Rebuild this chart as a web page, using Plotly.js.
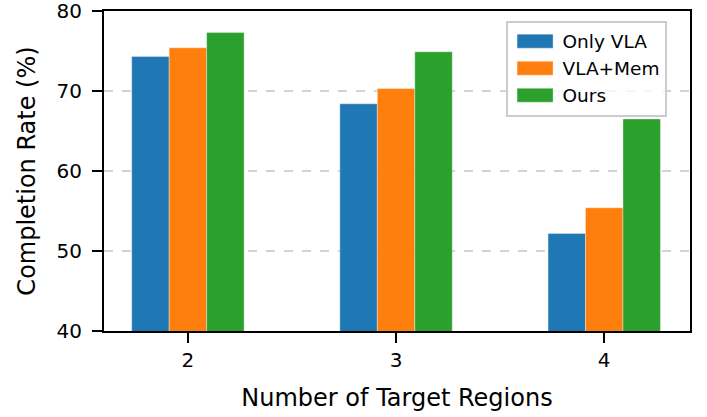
<!DOCTYPE html>
<html>
<head>
<meta charset="utf-8">
<script src="https://cdn.plot.ly/plotly-3.0.1.min.js"></script>
<style>html,body{margin:0;padding:0;background:#fff;}#chart{width:707px;height:417px;}</style>
</head>
<body>
<div id="chart"></div>
<script>
const categories = ['2', '3', '4'];
const seriesNames = ['Only VLA', 'VLA+Mem', 'Ours'];
const onlyVLA = [74.3, 68.4, 52.2];
const vlaMem = [75.4, 70.3, 55.4];
const ours = [77.3, 74.9, 66.5];
const yTicks = [40, 50, 60, 70, 80];

const colors = ['#1f77b4', '#ff7f0e', '#2ca02c'];
const seriesValues = [onlyVLA, vlaMem, ours];

const traces = seriesValues.map((vals, i) => ({
  type: 'bar',
  name: seriesNames[i],
  x: categories,
  y: vals,
  marker: {color: colors[i], line: {color: 'rgba(255,255,255,0.6)', width: 0.6}},
  hoverinfo: 'x+y+name'
}));

const font = 'DejaVu Sans, sans-serif';
const layout = {
  width: 707, height: 417,
  margin: {l: 104, r: 17, t: 11, b: 86},
  paper_bgcolor: '#fff', plot_bgcolor: '#fff',
  barmode: 'group', bargap: 0.46, bargroupgap: 0,
  font: {family: font, color: '#000'},
  showlegend: true,
  legend: {
    x: 0.96, xanchor: 'right', y: 0.97, yanchor: 'top',
    bgcolor: 'rgba(255,255,255,0.8)', bordercolor: '#cccccc', borderwidth: 2,
    font: {family: font, size: 18.5, color: '#000'},
    itemwidth: 45
  },
  xaxis: {
    type: 'category',
    range: [-0.403, 2.412],
    showline: true, linecolor: '#000', linewidth: 2, mirror: true,
    ticks: 'outside', ticklen: 10, tickwidth: 2, tickcolor: '#000',
    tickfont: {family: font, size: 20, color: '#000'},
    ticklabeloverflow: 'allow',
    showgrid: false, zeroline: false,
    title: {text: 'Number of Target Regions', font: {family: font, size: 24, color: '#000'}, standoff: 18}
  },
  yaxis: {
    range: [40, 80],
    tickvals: yTicks, ticktext: yTicks.map(String),
    showline: true, linecolor: '#000', linewidth: 2, mirror: true,
    ticks: 'outside', ticklen: 10, tickwidth: 2, tickcolor: '#000',
    tickfont: {family: font, size: 20, color: '#000'},
    ticklabeloverflow: 'allow', ticklabelstandoff: 6,
    showgrid: true, gridcolor: '#d3d3d3', gridwidth: 2, griddash: 'dash',
    zeroline: false,
    title: {text: 'Completion Rate (%)', font: {family: font, size: 24, color: '#000'}, standoff: 14}
  }
};

Plotly.newPlot('chart', traces, layout, {displayModeBar: false, staticPlot: true}).then(gd => {
  gd.querySelectorAll('.legend .legendpoints path').forEach(p => {
    p.setAttribute('d', 'M18,7H-18V-7H18Z');
  });
});
</script>
</body>
</html>
